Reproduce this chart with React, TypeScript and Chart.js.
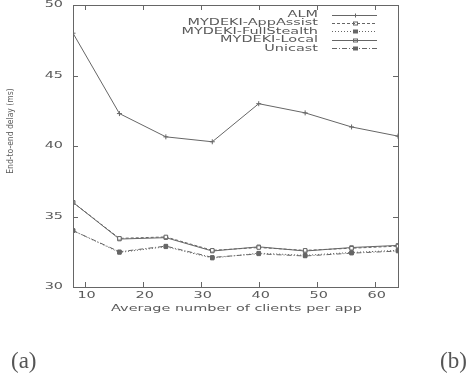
import React, { useEffect, useRef } from 'react';
import { Chart, registerables } from 'chart.js';

Chart.register(...registerables);

const clients = [8, 16, 24, 32, 40, 48, 56, 64];
const almDelay = [48.0, 42.3, 40.65, 40.3, 43.0, 42.35, 41.35, 40.7];
const appAssistDelay = [36.0, 33.45, 33.55, 32.6, 32.8, 32.6, 32.75, 32.9];
const fullStealthDelay = [34.0, 32.45, 32.85, 32.05, 32.4, 32.25, 32.45, 32.6];
const localDelay = [36.0, 33.4, 33.5, 32.55, 32.85, 32.55, 32.8, 32.95];
const unicastDelay = [34.0, 32.5, 32.9, 32.1, 32.35, 32.2, 32.4, 32.55];
const seriesNames = ['ALM', 'MYDEKI-AppAssist', 'MYDEKI-FullStealth', 'MYDEKI-Local', 'Unicast'];
const xTicks = [10, 20, 30, 40, 50, 60];
const yTicks = [30, 35, 40, 45, 50];
const xTitle = 'Average number of clients per app';
const yTitle = 'End-to-end delay (ms)';

const INK = '#5a5a5a';
const LINE = '#666666';
const SX = 1.52;
const FONT = '9.5px "DejaVu Sans"';

const seriesStyle = [
  { dash: [] as number[], point: 'cross', fill: false },
  { dash: [3, 2], point: 'rect', fill: false },
  { dash: [1, 2], point: 'rect', fill: true },
  { dash: [], point: 'rect', fill: false },
  { dash: [5, 2, 1, 2], point: 'rect', fill: true },
];

const allSeries = [almDelay, appAssistDelay, fullStealthDelay, localDelay, unicastDelay];

function stretchedText(ctx: CanvasRenderingContext2D, text: string, x: number, y: number, align: CanvasTextAlign) {
  ctx.save();
  ctx.translate(x, y);
  ctx.scale(SX, 1);
  ctx.font = FONT;
  ctx.fillStyle = INK;
  ctx.textAlign = align;
  ctx.textBaseline = 'middle';
  ctx.fillText(text, 0, 0);
  ctx.restore();
}

const framePlugin = {
  id: 'frame',
  afterDatasetsDraw(chart: any) {
    const { ctx, chartArea: a, scales } = chart;
    ctx.save();
    ctx.strokeStyle = LINE;
    ctx.lineWidth = 1;
    ctx.setLineDash([]);
    ctx.strokeRect(a.left + 0.5, a.top + 0.5, a.right - a.left, a.bottom - a.top);
    const t = 5;
    ctx.beginPath();
    for (const v of xTicks) {
      const px = Math.round(scales.x.getPixelForValue(v)) + 0.5;
      ctx.moveTo(px, a.bottom);
      ctx.lineTo(px, a.bottom - t);
      ctx.moveTo(px, a.top);
      ctx.lineTo(px, a.top + t);
    }
    for (const v of yTicks) {
      const py = Math.round(scales.y.getPixelForValue(v)) + 0.5;
      ctx.moveTo(a.left, py);
      ctx.lineTo(a.left + t, py);
      ctx.moveTo(a.right, py);
      ctx.lineTo(a.right - t, py);
    }
    ctx.stroke();
    ctx.restore();
  },
  afterDraw(chart: any) {
    const { ctx, chartArea: a, scales } = chart;
    ctx.save();
    // tick labels
    for (const v of xTicks) {
      stretchedText(ctx, String(v), scales.x.getPixelForValue(v) + 2, a.bottom + 9, 'center');
    }
    for (const v of yTicks) {
      stretchedText(ctx, String(v), a.left - 10, scales.y.getPixelForValue(v), 'right');
    }
    // x title
    stretchedText(ctx, xTitle, (a.left + a.right) / 2 + 1, a.bottom + 22, 'center');
    // legend
    const textRight = a.right - 80;
    const lineL = a.right - 66;
    const lineR = a.right - 21;
    seriesNames.forEach((name, i) => {
      const y = a.top + 9.5 + i * 8.4;
      stretchedText(ctx, name, textRight, y, 'right');
      const st = seriesStyle[i];
      const cy = Math.round(y) + 0.5;
      ctx.strokeStyle = LINE;
      ctx.lineWidth = 1;
      ctx.setLineDash(st.dash);
      ctx.beginPath();
      ctx.moveTo(lineL, cy);
      ctx.lineTo(lineR, cy);
      ctx.stroke();
      ctx.setLineDash([]);
      const cx = Math.round((lineL + lineR) / 2) + 0.5;
      if (st.point === 'cross') {
        ctx.beginPath();
        ctx.moveTo(cx, cy - 2);
        ctx.lineTo(cx, cy + 2);
        ctx.stroke();
      } else if (st.fill) {
        ctx.fillStyle = LINE;
        ctx.fillRect(cx - 2.5, cy - 2, 5, 4);
      } else {
        ctx.strokeRect(cx - 2, cy - 1.5, 4, 3);
      }
    });
    // y title
    ctx.save();
    ctx.font = '8.5px "Liberation Sans Narrow", "DejaVu Sans Condensed", sans-serif';
    ctx.fillStyle = INK;
    ctx.translate(11, 131);
    ctx.rotate(-Math.PI / 2);
    ctx.textAlign = 'center';
    ctx.textBaseline = 'middle';
    ctx.fillText(yTitle, 0, 0);
    ctx.restore();
    ctx.restore();
  },
};

export default function App() {
  const ref = useRef<HTMLCanvasElement | null>(null);

  useEffect(() => {
    document.body.style.margin = '0';
    const canvas = ref.current;
    if (!canvas) return;
    const chart = new Chart(canvas, {
      type: 'line',
      data: {
        datasets: allSeries.map((vals, i) => ({
          label: seriesNames[i],
          data: clients.map((x, j) => ({ x, y: vals[j] })),
          borderColor: LINE,
          backgroundColor: seriesStyle[i].fill ? LINE : 'rgba(0,0,0,0)',
          borderWidth: 1,
          borderDash: seriesStyle[i].dash,
          pointStyle: seriesStyle[i].point as any,
          pointRadius: 2.5,
          pointBorderColor: LINE,
          pointBackgroundColor: seriesStyle[i].fill ? LINE : '#ffffff',
          pointBorderWidth: 1,
          tension: 0,
          fill: false,
        })),
      },
      options: {
        animation: false,
        responsive: false,
        devicePixelRatio: 1,
        layout: { padding: { top: 5, right: 72, left: 0, bottom: 0 } },
        plugins: {
          legend: { display: false },
          tooltip: { enabled: false },
        },
        scales: {
          x: {
            type: 'linear',
            min: 8,
            max: 64,
            afterBuildTicks: (s: any) => {
              s.ticks = xTicks.map((v) => ({ value: v }));
            },
            afterFit: (s: any) => {
              s.height = 92;
            },
            grid: { display: false, drawTicks: false },
            border: { display: false },
            ticks: { display: false },
            title: { display: false, text: xTitle },
          },
          y: {
            type: 'linear',
            min: 30,
            max: 50,
            afterBuildTicks: (s: any) => {
              s.ticks = yTicks.map((v) => ({ value: v }));
            },
            afterFit: (s: any) => {
              s.width = 73;
            },
            grid: { display: false, drawTicks: false },
            border: { display: false },
            ticks: { display: false },
            title: { display: false, text: yTitle },
          },
        },
      },
      plugins: [framePlugin],
    });
    return () => chart.destroy();
  }, []);

  const labelStyle: React.CSSProperties = {
    position: 'absolute',
    top: 346,
    fontFamily: '"Liberation Serif", serif',
    fontSize: 23,
    color: '#555',
    lineHeight: '30px',
  };

  return (
    <div style={{ position: 'relative', width: 470, height: 379, background: '#fff', overflow: 'hidden' }}>
      <canvas ref={ref} width={470} height={379} style={{ display: 'block', width: 470, height: 379 }} />
      <div style={{ ...labelStyle, left: 11 }}>(a)</div>
      <div style={{ ...labelStyle, left: 440 }}>(b)</div>
    </div>
  );
}
